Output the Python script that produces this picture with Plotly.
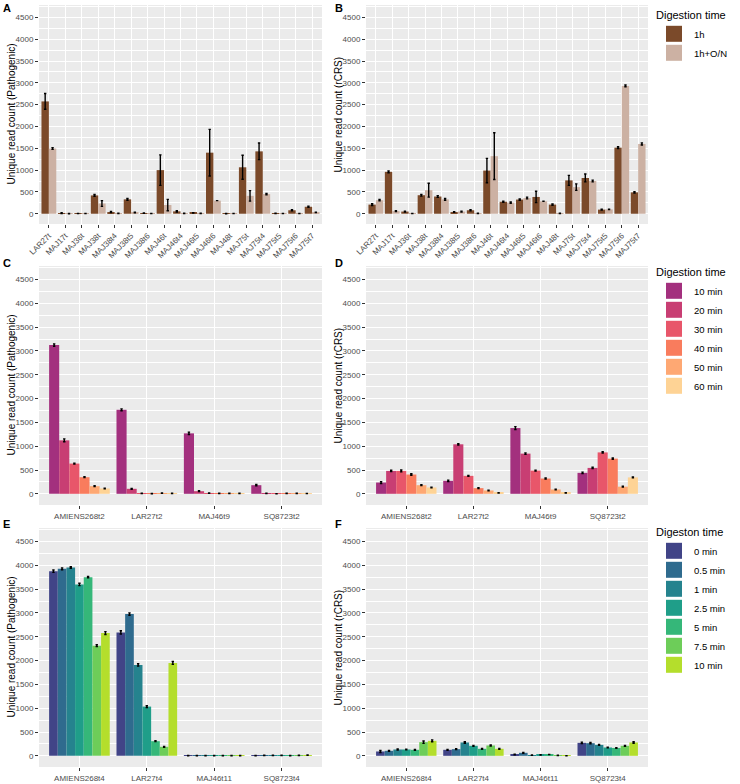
import plotly.graph_objects as go

# ---------------- data ----------------
cats_AB = ["LAR27t", "MAJ17t", "MAJ36t", "MAJ38t", "MAJ38t4", "MAJ38t5", "MAJ38t6",
           "MAJ46t", "MAJ46t4", "MAJ46t5", "MAJ46t6", "MAJ48t", "MAJ75t", "MAJ75t4",
           "MAJ75t5", "MAJ75t6", "MAJ75t7"]
groups_AB = ["1h", "1h+O/N"]

A_1h = [2575, 15, 5, 420, 40, 330, 15, 1000, 55, 20, 1400, 3, 1065, 1430, 10, 80, 160]
A_1h_err = [180, 8, 3, 20, 10, 20, 5, 350, 15, 5, 535, 2, 275, 190, 5, 15, 15]
A_on = [1495, 3, 5, 235, 10, 30, 5, 200, 10, 10, 300, 3, 410, 450, 3, 3, 30]
A_on_err = [20, 2, 2, 65, 3, 8, 2, 130, 3, 3, 0, 1, 120, 15, 1, 1, 5]

B_1h = [210, 960, 50, 425, 395, 40, 80, 990, 275, 325, 385, 210, 765, 820, 95, 1515, 490]
B_1h_err = [20, 20, 10, 20, 20, 8, 10, 280, 15, 15, 130, 15, 115, 90, 8, 20, 15]
B_on = [310, 60, 5, 540, 330, 50, 10, 1320, 255, 360, 285, 10, 610, 750, 100, 2930, 1600]
B_on_err = [15, 10, 2, 160, 20, 10, 3, 535, 15, 20, 0, 3, 75, 20, 5, 20, 25]

cats_CD = ["AMIENS268t2", "LAR27t2", "MAJ46t9", "SQ8723t2"]
groups_CD = ["10 min", "20 min", "30 min", "40 min", "50 min", "60 min"]
C_vals = [[3125, 1765, 1270, 181], [1123, 105, 55, 10], [635, 10, 15, 2],
          [349, 5, 10, 10], [160, 15, 10, 10], [112, 10, 10, 5]]
C_errs = [[25, 20, 25, 15], [30, 10, 8, 3], [10, 3, 3, 2],
          [10, 3, 3, 3], [8, 3, 3, 3], [8, 3, 3, 2]]
D_vals = [[237, 272, 1381, 440], [481, 1040, 844, 544], [481, 377, 488, 870],
          [405, 119, 321, 740], [181, 70, 91, 150], [133, 21, 21, 345]]
D_errs = [[20, 15, 30, 15], [15, 15, 15, 15], [20, 10, 10, 15],
          [15, 8, 10, 15], [8, 5, 5, 8], [8, 3, 3, 10]]

cats_EF = ["AMIENS268t4", "LAR27t4", "MAJ46t11", "SQ8723t4"]
groups_EF = ["0 min", "0.5 min", "1 min", "2.5 min", "5 min", "7.5 min", "10 min"]
E_vals = [[3878, 2592, 3, 5], [3927, 2977, 3, 10], [3955, 1908, 3, 10],
          [3599, 1034, 3, 10], [3752, 307, 3, 5], [2313, 189, 3, 10], [2578, 1950, 3, 15]]
E_errs = [[25, 35, 2, 3], [20, 25, 2, 3], [15, 25, 2, 3], [25, 20, 2, 3],
          [15, 10, 2, 3], [20, 10, 2, 3], [30, 30, 2, 3]]
F_vals = [[91, 126, 28, 272], [105, 140, 63, 265], [133, 280, 15, 230],
          [133, 210, 20, 175], [126, 147, 28, 165], [287, 217, 10, 210], [314, 147, 2, 280]]
F_errs = [[20, 10, 5, 15], [10, 10, 8, 15], [10, 15, 3, 10], [8, 10, 3, 8],
          [8, 8, 3, 8], [25, 10, 3, 10], [20, 10, 2, 15]]

y_ticks = [0, 500, 1000, 1500, 2000, 2500, 3000, 3500, 4000, 4500]

# ---------------- styles ----------------
col_AB = ["#7b4a2a", "#ccb1a3"]
col_CD = ["#a3307e", "#c83e73", "#e8566a", "#f97c5d", "#fea873", "#fed395"]
col_EF = ["#414487", "#2f6b8e", "#25838e", "#1f9e89", "#35b779", "#6dcd59", "#b4de2c"]

FONT = "Liberation Sans, Arial, Helvetica, sans-serif"
W, H = 740, 784

fig = go.Figure()


def add_bar(name, cats, vals, errs, color, ax):
    fig.add_trace(go.Bar(
        x=cats, y=vals, name=name, marker=dict(color=color, line=dict(width=0)),
        error_y=dict(type="data", array=errs, color="black", thickness=1.4, width=1.2),
        xaxis="x" + ax, yaxis="y" + ax, showlegend=False,
    ))


def add_key(name, color, ax, legend):
    fig.add_trace(go.Scatter(
        x=[None], y=[None], mode="markers", name=name,
        marker=dict(symbol="square", size=16, color=color, line=dict(width=0)),
        xaxis="x" + ax, yaxis="y" + ax, legend=legend, showlegend=True,
    ))


# A and B
add_bar(groups_AB[0], cats_AB, A_1h, A_1h_err, col_AB[0], "")
add_bar(groups_AB[1], cats_AB, A_on, A_on_err, col_AB[1], "")
add_bar(groups_AB[0], cats_AB, B_1h, B_1h_err, col_AB[0], "2")
add_bar(groups_AB[1], cats_AB, B_on, B_on_err, col_AB[1], "2")
for i, g in enumerate(groups_AB):
    add_key(g, col_AB[i], "2", "legend")
# C and D
for i, g in enumerate(groups_CD):
    add_bar(g, cats_CD, C_vals[i], C_errs[i], col_CD[i], "3")
for i, g in enumerate(groups_CD):
    add_bar(g, cats_CD, D_vals[i], D_errs[i], col_CD[i], "4")
for i, g in enumerate(groups_CD):
    add_key(g, col_CD[i], "4", "legend2")
# E and F
for i, g in enumerate(groups_EF):
    add_bar(g, cats_EF, E_vals[i], E_errs[i], col_EF[i], "5")
for i, g in enumerate(groups_EF):
    add_bar(g, cats_EF, F_vals[i], F_errs[i], col_EF[i], "6")
for i, g in enumerate(groups_EF):
    add_key(g, col_EF[i], "6", "legend3")


def px_dom_x(a, b):
    return [a / W, b / W]


def px_dom_y(top, bottom):
    return [1 - bottom / H, 1 - top / H]


xdoms = {"": (39, 322), "2": (366, 648), "3": (39, 322), "4": (366, 648),
         "5": (39, 322), "6": (366, 648)}
ydoms = {"": (5, 224), "2": (5, 224), "3": (266, 505), "4": (266, 505),
         "5": (528, 767), "6": (528, 767)}
ytitles = {"": "Unique read count (Pathogenic)", "2": "Unique read count (rCRS)",
           "3": "Unique read count (Pathogenic)", "4": "Unique read count (rCRS)",
           "5": "Unique read count (Pathogenic)", "6": "Unique read count (rCRS)"}
ytitle_x = {"": 11, "2": 338, "3": 11, "4": 338, "5": 11, "6": 338}
xcats = {"": cats_AB, "2": cats_AB, "3": cats_CD, "4": cats_CD, "5": cats_EF, "6": cats_EF}

layout = dict(
    width=W, height=H, margin=dict(l=0, r=0, t=0, b=0),
    paper_bgcolor="white", plot_bgcolor="#ebebeb",
    barmode="group", bargap=0.1, bargroupgap=0,
    font=dict(family=FONT, size=8, color="#4d4d4d"),
)

annotations = []
for ax in ["", "2", "3", "4", "5", "6"]:
    n = len(xcats[ax])
    rot = ax in ("", "2")
    layout["xaxis" + ax] = dict(
        domain=px_dom_x(*xdoms[ax]), anchor="y" + ax, type="category",
        categoryorder="array", categoryarray=xcats[ax],
        range=[-0.6, n - 0.4], showgrid=True, gridcolor="white", gridwidth=1.1,
        ticks="outside", ticklen=3, tickcolor="#333333", tickwidth=1,
        tickangle=-45 if rot else 0,
        tickfont=dict(size=8, color="#4d4d4d", family=FONT),
        showline=False, zeroline=False, automargin=False, fixedrange=True,
    )
    layout["yaxis" + ax] = dict(
        domain=px_dom_y(*ydoms[ax]), anchor="x" + ax, range=[-235, 4785],
        tickvals=y_ticks, showgrid=True, gridcolor="white", gridwidth=1.1,
        minor=dict(dtick=250, tick0=0, showgrid=True, gridcolor="white", gridwidth=0.5),
        ticks="outside", ticklen=3, tickcolor="#333333", tickwidth=1,
        tickfont=dict(size=8, color="#4d4d4d", family=FONT),
        zeroline=False, showline=False, automargin=False, fixedrange=True,
    )
    top, bot = ydoms[ax]
    annotations.append(dict(
        text=ytitles[ax], x=ytitle_x[ax] / W, y=1 - (top + bot) / 2 / H,
        xref="paper", yref="paper", xanchor="center", yanchor="middle",
        textangle=-90, showarrow=False,
        font=dict(size=10, color="black", family=FONT)))

leg_common = dict(
    xanchor="left", yanchor="top", x=654 / W,
    font=dict(size=9.5, color="black", family=FONT),
    bgcolor="rgba(0,0,0,0)", tracegroupgap=0, itemwidth=30, itemsizing="trace",
)
layout["legend"] = dict(leg_common, y=1 - 5 / H,
                        title=dict(text="Digestion time", font=dict(size=11, color="black")))
layout["legend2"] = dict(leg_common, y=1 - 262 / H,
                         title=dict(text="Digestion time", font=dict(size=11, color="black")))
layout["legend3"] = dict(leg_common, y=1 - 522 / H,
                         title=dict(text="Digeston time", font=dict(size=11, color="black")))

labels = [("A", 1, 8), ("B", 333, 8), ("C", 1, 263), ("D", 333, 263), ("E", 1, 524), ("F", 333, 524)]
for t, x, y in labels:
    annotations.append(dict(
        text="<b>%s</b>" % t, x=x / W, y=1 - y / H, xref="paper", yref="paper",
        xanchor="left", yanchor="middle", showarrow=False,
        font=dict(size=11, color="black", family=FONT)))
layout["annotations"] = annotations

fig.update_layout(**layout)
fig.write_html("out.html", config={"displayModeBar": False},
               post_script="document.body.style.margin='0';document.body.style.overflow='hidden';")
